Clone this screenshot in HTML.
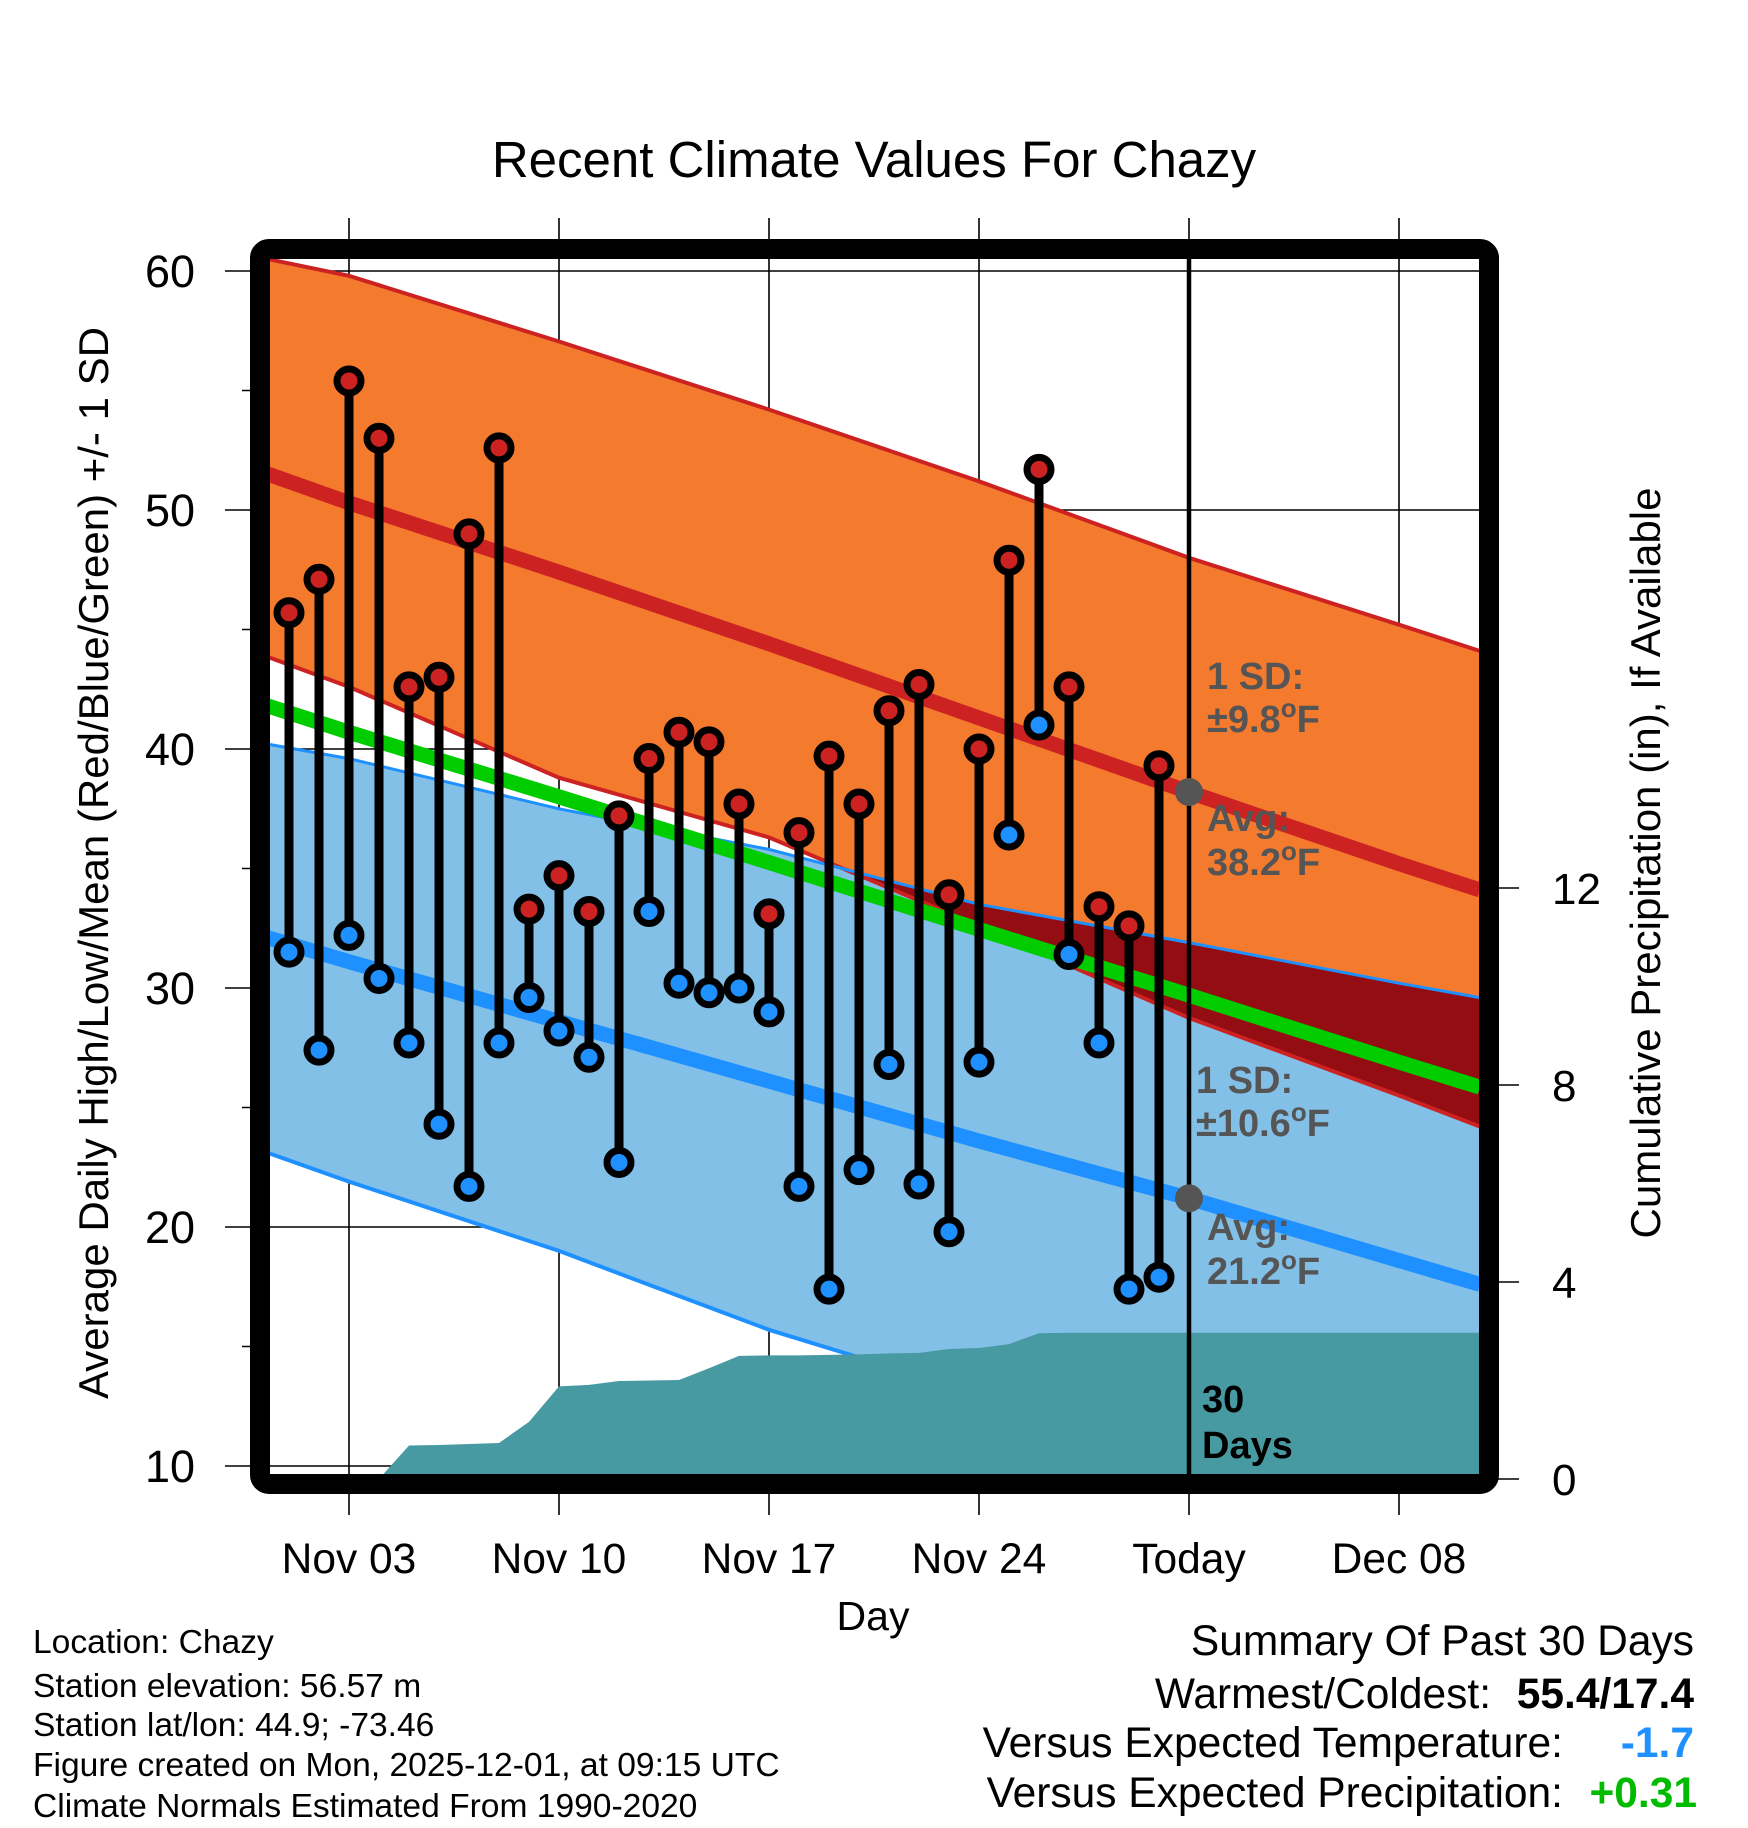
<!DOCTYPE html>
<html><head><meta charset="utf-8"><title>Recent Climate Values For Chazy</title>
<style>
html,body{margin:0;padding:0;background:#fff;}
svg{display:block;font-family:"Liberation Sans",Arial,sans-serif;}
</style></head>
<body>
<svg id="chart" xmlns="http://www.w3.org/2000/svg" width="1748" height="1828" viewBox="0 0 1748 1828">
<defs><clipPath id="plotclip"><rect x="270" y="259" width="1209" height="1215"/></clipPath></defs>
<rect width="1748" height="1828" fill="#fff"/>
<text x="874" y="177" font-size="51" text-anchor="middle">Recent Climate Values For Chazy</text>
<g id="grid"></g>
<g id="plot" clip-path="url(#plotclip)"></g>
<g id="overlay"></g>
<rect x="260" y="249" width="1229" height="1235" rx="9" fill="none" stroke="#000" stroke-width="20"/>
<g id="axes"></g>
<text transform="translate(108,863) rotate(-90)" font-size="42" text-anchor="middle">Average Daily High/Low/Mean (Red/Blue/Green) +/- 1 SD</text>
<text transform="translate(1660,863) rotate(-90)" font-size="42" text-anchor="middle">Cumulative Precipitation (in), If Available</text>
<text x="873" y="1630" font-size="41" text-anchor="middle">Day</text>
<g font-size="33.6">
<text x="33" y="1653">Location: Chazy</text>
<text x="33" y="1697">Station elevation: 56.57 m</text>
<text x="33" y="1736">Station lat/lon: 44.9; -73.46</text>
<text x="33" y="1776">Figure created on Mon, 2025-12-01, at 09:15 UTC</text>
<text x="33" y="1817">Climate Normals Estimated From 1990-2020</text>
</g>
<g font-size="42.5">
<text x="1694" y="1655" text-anchor="end">Summary Of Past 30 Days</text>
<text x="1491" y="1708" text-anchor="end">Warmest/Coldest:</text>
<text x="1694" y="1708" text-anchor="end" font-weight="bold">55.4/17.4</text>
<text x="1563" y="1757" text-anchor="end">Versus Expected Temperature:</text>
<text x="1694" y="1757" text-anchor="end" font-weight="bold" fill="#1e90ff">-1.7</text>
<text x="1563" y="1807" text-anchor="end">Versus Expected Precipitation:</text>
<text x="1697" y="1807" text-anchor="end" font-weight="bold" fill="#00bb00">+0.31</text>
</g>
</svg>
<script>
// Observed daily values, Nov 1 .. Nov 30 (day index 0..29)
const obsDays = [0,1,2,3,4,5,6,7,8,9,10,11,12,13,14,15,16,17,18,19,20,21,22,23,24,25,26,27,28,29];
const highs = [45.7,47.1,55.4,53.0,42.6,43.0,49.0,52.6,33.3,34.7,33.2,37.2,39.6,40.7,40.3,37.7,33.1,36.5,39.7,37.7,41.6,42.7,33.9,40.0,47.9,51.7,42.6,33.4,32.6,39.3];
const lows = [31.5,27.4,32.2,30.4,27.7,24.3,21.7,27.7,29.6,28.2,27.1,22.7,33.2,30.2,29.8,30.0,29.0,21.7,17.4,22.4,26.8,21.8,19.8,26.9,36.4,41.0,31.4,27.7,17.4,17.9];
// Cumulative precipitation (in), day index
const precipDays = [0,1,2,3,4,5,6,7,8,9,10,11,12,13,14,15,16,17,18,19,20,21,22,23,24,25,26,27,28,29,39.7];
const precipVals = [0,0,0,0,0.68,0.69,0.71,0.73,1.16,1.88,1.91,1.99,2.00,2.01,2.25,2.50,2.51,2.51,2.52,2.53,2.55,2.56,2.64,2.66,2.74,2.96,2.97,2.97,2.97,2.97,2.97];
// Climate normals sampled at day index
const normDays = [-0.7,2,9,16,23,30,37,39.7];
const highUpper = [60.5,59.8,57.05,54.2,51.2,48.0,45.2,44.1];
const highAvg = [51.5,50.3,47.4,44.4,41.3,38.2,35.2,34.1];
const highLower = [43.85,42.6,38.8,36.3,32.6,28.75,25.5,24.2];
const lowUpper = [40.2,39.6,37.5,35.8,33.5,31.9,30.2,29.6];
const lowAvg = [32.1,31.1,28.6,26.1,23.6,21.2,18.6,17.6];
const lowLower = [23.1,21.9,19.0,15.7,13.0,11.0,8.5,7.5];
const meanAvg = [41.8,40.7,38.0,35.25,32.45,29.7,26.9,25.85];
// Axis ticks
const yTicks = [10,20,30,40,50,60];
const yMinor = [15,25,35,45,55];
const y2Ticks = [0,4,8,12];
const xTickDays = [2,9,16,23,30,37];
const xTickLabels = ["Nov 03","Nov 10","Nov 17","Nov 24","Today","Dec 08"];
const todayDay = 30;
const todayHigh = 38.2, todayLow = 21.2;

const NS = "http://www.w3.org/2000/svg";
function X(d){ return 289 + d*30; }
function Y(t){ return 271 + (60 - t)*23.9; }
function YP(p){ return 1479 - p*49.25; }
function mk(tag, attrs, parent){
  const e = document.createElementNS(NS, tag);
  for (const k in attrs) e.setAttribute(k, attrs[k]);
  parent.appendChild(e);
  return e;
}
function pts(days, vals, yf){ return days.map((d,i)=>X(d).toFixed(1)+","+yf(vals[i]).toFixed(1)); }

const grid = document.getElementById('grid');
const plot = document.getElementById('plot');
const overlay = document.getElementById('overlay');
const axes = document.getElementById('axes');

const band1 = mk('polygon', {points: pts(normDays, highUpper, Y).concat(pts(normDays, highLower, Y).reverse()).join(' '), fill:'#f47a2e'}, plot);


const band2 = mk('polygon', {points: pts(normDays, lowUpper, Y).concat(pts(normDays, lowLower, Y).reverse()).join(' '), fill:'#83c0e8'}, plot);


const defs = document.querySelector('defs');
const cp = mk('clipPath', {id:'highclip'}, defs);
mk('polygon', {points: pts(normDays, highUpper, Y).concat(pts(normDays, highLower, Y).reverse()).join(' ')}, cp);
const overlap = mk('polygon', {points: pts(normDays, lowUpper, Y).concat(pts(normDays, lowLower, Y).reverse()).join(' '), fill:'#930d12', 'clip-path':'url(#highclip)'}, plot);



function line(days, vals, color, w, name){
  const l = mk('polyline', {points: pts(days, vals, Y).join(' '), fill:'none', stroke:color, 'stroke-width':w}, plot);
  
  
}
line(normDays, highUpper, '#cc2222', 4, 'high-upper-sd-line');
line(normDays, highLower, '#cc2222', 4, 'high-lower-sd-line');
line(normDays, lowUpper, '#1e90ff', 3, 'low-upper-sd-line');
line(normDays, lowLower, '#1e90ff', 4, 'low-lower-sd-line');
line(normDays, highAvg, '#cc2222', 15, 'normal-high-line');
line(normDays, lowAvg, '#1e90ff', 15, 'normal-low-line');
line(normDays, meanAvg, '#00cc00', 15, 'normal-mean-line');

const pp = pts(precipDays, precipVals, YP);
const precip = mk('polygon', {points: [X(precipDays[0]).toFixed(1)+",1490"].concat(pp).concat([X(precipDays[precipDays.length-1]).toFixed(1)+",1490"]).join(' '), fill:'#489aa2'}, plot);



yTicks.forEach(t=>{
  const g = mk('line', {x1:225, x2:1479, y1:Y(t), y2:Y(t), stroke:'#000', 'stroke-width':1.6}, grid);
  
  
  const lb = mk('text', {x:195, y:Y(t)+16, 'font-size':45, 'text-anchor':'end'}, axes);
  lb.textContent = t;
  
  
});
yMinor.forEach(t=>{
  const m = mk('line', {x1:242, x2:260, y1:Y(t), y2:Y(t), stroke:'#000', 'stroke-width':1.6}, grid);
  
  
});
xTickDays.forEach((d,i)=>{
  const g = mk('line', {x1:X(d), x2:X(d), y1:218, y2:1515, stroke:'#000', 'stroke-width':1.6}, grid);
  
  
  const lb = mk('text', {x:X(d), y:1573, 'font-size':42.5, 'text-anchor':'middle'}, axes);
  lb.textContent = xTickLabels[i];
  
  
});
y2Ticks.forEach(p=>{
  const t = mk('line', {x1:1489, x2:1519, y1:YP(p), y2:YP(p), stroke:'#000', 'stroke-width':1.6}, axes);
  
  
  const lb = mk('text', {x:1552, y:YP(p)+16, 'font-size':44}, axes);
  lb.textContent = p;
  
  
});

obsDays.forEach((d,i)=>{
  const s = mk('line', {x1:X(d), x2:X(d), y1:Y(highs[i]), y2:Y(lows[i]), stroke:'#000', 'stroke-width':9}, overlay);
  
  
});
obsDays.forEach((d,i)=>{
  const h = mk('circle', {cx:X(d), cy:Y(highs[i]), r:12, fill:'#cc2222', stroke:'#000', 'stroke-width':7}, overlay);
  
  
  const l = mk('circle', {cx:X(d), cy:Y(lows[i]), r:12, fill:'#1e90ff', stroke:'#000', 'stroke-width':7}, overlay);
  
  
});

const tl = mk('line', {x1:X(todayDay), x2:X(todayDay), y1:255, y2:1476, stroke:'#000', 'stroke-width':4.5}, overlay);


const d1 = mk('circle', {cx:X(todayDay), cy:Y(todayHigh), r:14, fill:'#555'}, overlay);


const d2 = mk('circle', {cx:X(todayDay), cy:Y(todayLow), r:14, fill:'#555'}, overlay);



function ann(x, y, txt, deg, color, name){
  const t = mk('text', {x:x, y:y, 'font-size':38, 'font-weight':'bold', fill:color}, overlay);
  
  
  if (deg){
    t.appendChild(document.createTextNode(txt));
    const s = mk('tspan', {dy:-15, 'font-size':26}, t); s.textContent = 'o';
    const f = mk('tspan', {dy:15}, t); f.textContent = 'F';
  } else t.textContent = txt;
}
ann(1207, 689, '1 SD:', false, '#555', 'high-sd-label');
ann(1207, 732, '\u00b19.8', true, '#555', 'high-sd-value');
ann(1207, 831, 'Avg:', false, '#555', 'high-avg-label');
ann(1207, 875, '38.2', true, '#555', 'high-avg-value');
ann(1196, 1093, '1 SD:', false, '#555', 'low-sd-label');
ann(1196, 1136, '\u00b110.6', true, '#555', 'low-sd-value');
ann(1207, 1240, 'Avg:', false, '#555', 'low-avg-label');
ann(1207, 1284, '21.2', true, '#555', 'low-avg-value');
ann(1202, 1412, '30', false, '#000', 'window-days-number');
ann(1202, 1458, 'Days', false, '#000', 'window-days-label');
</script>
</body></html>
